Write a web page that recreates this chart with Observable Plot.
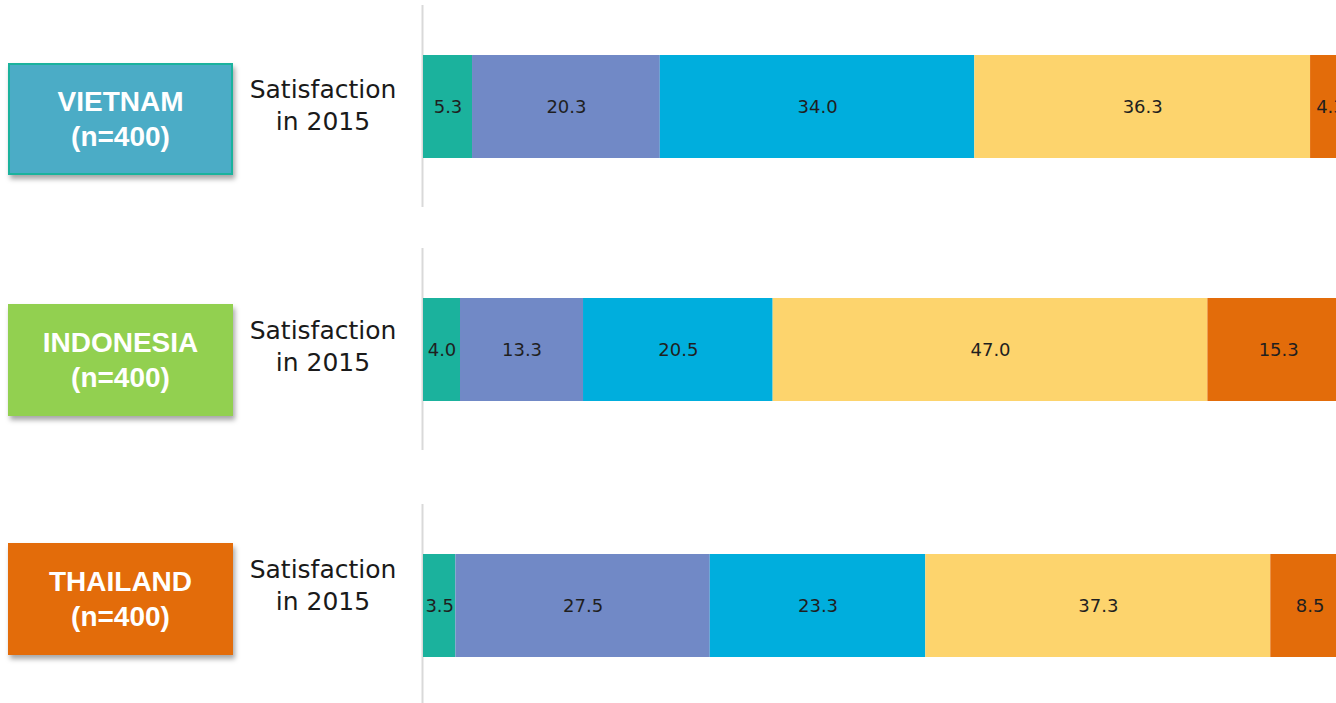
<!DOCTYPE html>
<html>
<head>
<meta charset="utf-8">
<script src="https://cdn.jsdelivr.net/npm/d3@7"></script>
<script src="https://cdn.jsdelivr.net/npm/@observablehq/plot@0.6"></script>
<style>
  html, body { margin: 0; padding: 0; background: #fff; overflow: hidden; }
  #wrap { position: relative; width: 1336px; height: 703px; overflow: hidden; background: #fff; }
  .plot { position: absolute; left: 0; }
  .box { position: absolute; left: 8px; width: 225px; height: 112px; box-sizing: border-box;
         display: flex; flex-direction: column; align-items: center; justify-content: center;
         color: #fff; font-family: "Liberation Sans", Arial, sans-serif; font-weight: bold;
         font-size: 28px; line-height: 35px; box-shadow: 2px 4px 5px rgba(0,0,0,0.35); }
  .sat { position: absolute; left: 233px; width: 180px; text-align: center;
         font-family: "DejaVu Sans", sans-serif; font-size: 25px; line-height: 32px; color: #1a1a1a; }
</style>
</head>
<body>
<div id="wrap"></div>
<script>
// ---- data ----
const countries = ["VIETNAM", "INDONESIA", "THAILAND"];
const sampleSizes = [400, 400, 400];
const rowLabel = "Satisfaction in 2015";
const levels = ["Level 1", "Level 2", "Level 3", "Level 4", "Level 5"];
const vietnamValues = [5.3, 20.3, 34.0, 36.3, 4.3];
const indonesiaValues = [4.0, 13.3, 20.5, 47.0, 15.3];
const thailandValues = [3.5, 27.5, 23.3, 37.3, 8.5];

// ---- styles ----
const levelColors = ["#1bb29d", "#7189c6", "#00aedd", "#fdd46d", "#e36c0a"];
const boxColors = ["#4bacc6", "#92d050", "#e36c0a"];
const boxBorders = ["2px solid #1bb29d", "none", "none"];
const plotTops = [0, 243, 499];
const boxTops = [63, 304, 543];

const valueSets = [vietnamValues, indonesiaValues, thailandValues];
const wrap = document.getElementById("wrap");

countries.forEach((country, ci) => {
  const rows = levels.map((level, i) => ({country, level, value: valueSets[ci][i]}));
  const chart = Plot.plot({
    width: 1336,
    height: 212,
    marginLeft: 423,
    marginRight: 0,
    marginTop: 5,
    marginBottom: 5,
    style: {background: "transparent", overflow: "visible"},
    x: {domain: [0, 100], range: [423, 1348], axis: null},
    y: {domain: [country], padding: 0.325, axis: null},
    color: {domain: levels, range: levelColors},
    marks: [
      Plot.ruleX([0], {stroke: "#d9d9d9", strokeWidth: 2, dx: -1}),
      Plot.barX(rows, {x: "value", y: "country", fill: "level", order: levels}),
      Plot.textX(rows, Plot.stackX({
        x: "value", y: "country", z: "level", order: levels,
        text: d => d.value.toFixed(1),
        fill: "#1f1f1f", fontSize: 18, fontFamily: "DejaVu Sans, sans-serif"
      }))
    ]
  });
  chart.classList.add("plot");
  chart.style.top = plotTops[ci] + "px";
  wrap.appendChild(chart);

  const box = document.createElement("div");
  box.className = "box";
  box.style.top = boxTops[ci] + "px";
  box.style.background = boxColors[ci];
  box.style.border = boxBorders[ci];
  const l1 = document.createElement("div"); l1.textContent = country;
  const l2 = document.createElement("div"); l2.textContent = `(n=${sampleSizes[ci]})`;
  box.appendChild(l1); box.appendChild(l2);
  wrap.appendChild(box);

  const sat = document.createElement("div");
  sat.className = "sat";
  sat.style.top = (boxTops[ci] + 11) + "px";
  const [w1, ...rest] = rowLabel.split(" ");
  const s1 = document.createElement("div"); s1.textContent = w1;
  const s2 = document.createElement("div"); s2.textContent = rest.join(" ");
  sat.appendChild(s1); sat.appendChild(s2);
  wrap.appendChild(sat);
});
</script>
</body>
</html>
